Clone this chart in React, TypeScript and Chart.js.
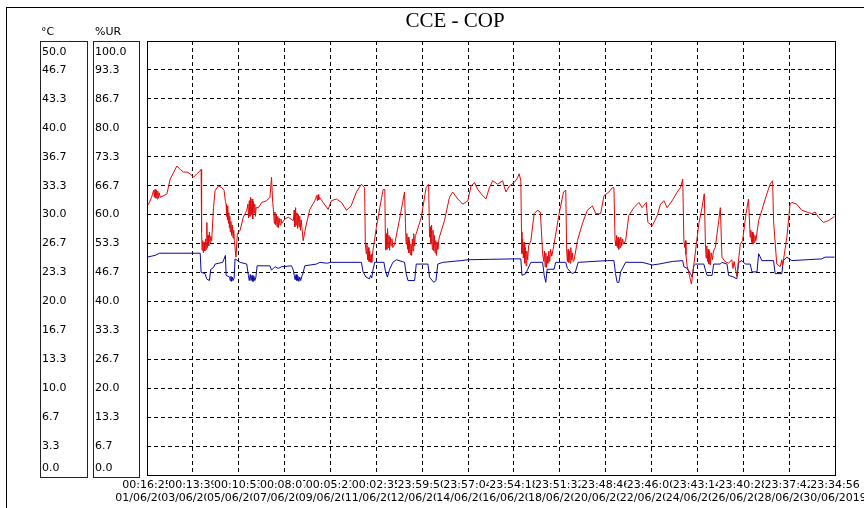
import { useEffect, useRef } from "react";
import { Chart, registerables } from "chart.js";

Chart.register(...registerables);

const chartTitle = "CCE - COP";
const leftAxisTitle = "°C";
const rightAxisTitle = "%UR";

const tempTickLabels = ["0.0", "3.3", "6.7", "10.0", "13.3", "16.7", "20.0", "23.3", "26.7", "30.0", "33.3", "36.7", "40.0", "43.3", "46.7", "50.0"];
const humTickLabels = ["0.0", "6.7", "13.3", "20.0", "26.7", "33.3", "40.0", "46.7", "53.3", "60.0", "66.7", "73.3", "80.0", "86.7", "93.3", "100.0"];

const xTimeLabels = ["00:16:25", "00:13:39", "00:10:53", "00:08:07", "00:05:21", "00:02:35", "23:59:50", "23:57:04", "23:54:18", "23:51:32", "23:48:46", "23:46:00", "23:43:14", "23:40:28", "23:37:42", "23:34:56"];
const xDateLabels = ["01/06/2019", "03/06/2019", "05/06/2019", "07/06/2019", "09/06/2019", "11/06/2019", "12/06/2019", "14/06/2019", "16/06/2019", "18/06/2019", "20/06/2019", "22/06/2019", "24/06/2019", "26/06/2019", "28/06/2019", "30/06/2019"];

// [days since start, °C]
const temperature: [number, number][] = [
  [0.0, 31.0], [0.07, 31.2], [0.2, 32.0], [0.29, 32.8],
  [0.32, 32.0], [0.35, 32.9], [0.38, 31.9], [0.41, 32.8], [0.44, 31.8], [0.47, 32.7], [0.5, 31.9], [0.53, 32.5],
  [0.58, 32.0], [0.75, 32.2], [0.87, 32.4], [1.01, 34.1], [1.15, 34.8], [1.3, 35.6], [1.45, 35.2], [1.59, 34.9],
  [1.75, 34.9], [1.88, 34.7], [2.03, 34.3], [2.17, 34.7], [2.3, 35.0], [2.36, 35.2], [2.38, 28.0], [2.4, 25.9],
  [2.43, 27.0], [2.46, 25.6], [2.49, 26.8], [2.52, 25.8], [2.55, 27.2], [2.58, 26.0], [2.61, 29.1], [2.63, 26.2],
  [2.66, 27.6], [2.69, 26.4], [2.72, 28.0], [2.75, 26.8], [2.78, 27.5], [2.82, 27.0],
  [2.9, 30.8], [2.97, 32.8], [3.12, 33.3], [3.26, 33.1], [3.36, 32.8], [3.42, 31.5],
  [3.45, 31.2], [3.47, 29.8], [3.49, 31.0], [3.51, 29.4], [3.53, 30.6], [3.55, 29.0], [3.57, 30.2], [3.59, 28.5],
  [3.61, 29.8], [3.63, 28.0], [3.66, 29.2], [3.69, 27.6], [3.72, 28.8], [3.75, 27.3], [3.78, 28.2], [3.81, 27.0],
  [3.88, 25.1], [3.94, 27.8], [4.06, 28.2], [4.2, 29.7], [4.35, 30.5],
  [4.4, 31.2], [4.43, 29.6], [4.46, 31.6], [4.49, 29.8], [4.52, 32.0], [4.55, 30.0], [4.58, 31.8], [4.61, 29.5],
  [4.64, 31.5], [4.67, 30.2], [4.7, 31.2], [4.73, 29.8], [4.76, 30.8],
  [4.86, 30.8], [5.0, 31.4], [5.22, 31.6], [5.36, 32.0], [5.43, 34.3], [5.48, 31.4],
  [5.52, 30.4], [5.55, 29.0], [5.58, 30.3], [5.61, 28.8], [5.64, 30.0], [5.67, 28.6], [5.7, 29.8], [5.73, 28.5],
  [5.76, 29.6], [5.8, 28.8], [5.84, 29.5], [5.88, 29.0],
  [6.01, 29.5], [6.16, 29.7], [6.38, 29.3],
  [6.42, 30.5], [6.45, 28.6], [6.48, 30.8], [6.51, 28.8], [6.54, 30.2], [6.57, 28.4], [6.6, 30.0], [6.63, 28.6],
  [6.66, 29.8], [6.69, 28.2], [6.72, 29.4], [6.76, 28.4], [6.81, 27.0],
  [6.93, 28.7], [7.1, 30.6], [7.32, 31.6], [7.4, 32.2], [7.43, 31.6], [7.46, 32.3], [7.49, 31.7], [7.52, 32.0],
  [7.68, 31.4], [7.9, 30.6], [8.04, 31.6], [8.26, 31.8], [8.48, 31.4], [8.7, 30.5], [8.9, 31.0], [9.13, 32.6],
  [9.35, 33.5], [9.49, 33.1], [9.52, 26.6],
  [9.56, 25.5], [9.59, 26.6], [9.62, 24.8], [9.65, 26.2], [9.68, 24.6], [9.71, 25.8], [9.74, 24.5], [9.77, 25.4],
  [9.8, 24.5], [9.84, 25.6],
  [10.0, 28.5], [10.15, 30.8], [10.3, 32.9], [10.37, 32.9], [10.4, 25.9],
  [10.43, 27.8], [10.46, 26.0], [10.49, 28.4], [10.52, 26.2], [10.55, 27.6], [10.58, 25.9], [10.61, 27.4],
  [10.64, 26.4], [10.68, 27.2], [10.72, 26.2],
  [10.8, 26.6], [11.0, 29.3], [11.23, 32.6], [11.27, 29.0], [11.3, 26.6],
  [11.33, 27.8], [11.36, 26.0], [11.39, 27.4], [11.42, 25.6], [11.45, 27.0], [11.48, 25.4], [11.51, 26.6],
  [11.54, 25.3], [11.57, 27.2], [11.6, 25.8], [11.63, 27.8], [11.67, 26.4], [11.7, 27.6],
  [11.74, 27.8], [11.96, 29.7], [12.17, 33.1], [12.28, 33.5], [12.32, 27.4],
  [12.35, 28.6], [12.38, 26.6], [12.41, 28.8], [12.44, 26.0], [12.47, 28.2], [12.5, 25.8], [12.53, 27.6],
  [12.56, 25.6], [12.59, 27.0], [12.62, 25.3], [12.65, 26.8], [12.68, 26.0], [12.72, 27.0],
  [12.75, 27.4], [12.97, 29.3], [13.19, 32.0], [13.33, 32.6], [13.55, 31.8], [13.77, 31.2], [13.99, 31.6],
  [14.13, 33.3], [14.28, 33.7], [14.42, 32.9], [14.57, 32.4], [14.78, 31.8], [14.93, 33.1], [15.07, 33.9],
  [15.29, 33.5], [15.51, 33.9], [15.58, 33.2], [15.65, 32.6], [15.8, 33.3], [16.01, 33.7], [16.15, 34.2],
  [16.23, 34.7], [16.3, 33.9], [16.33, 28.0], [16.35, 25.5],
  [16.38, 27.2], [16.41, 25.0], [16.44, 26.8], [16.47, 24.4], [16.5, 26.2], [16.53, 24.1], [16.56, 25.8],
  [16.6, 24.8], [16.64, 26.4],
  [16.74, 27.0], [16.88, 30.1], [17.03, 30.5], [17.15, 30.3], [17.2, 28.0], [17.25, 25.5],
  [17.3, 24.6], [17.33, 25.8], [17.36, 24.0], [17.39, 25.6], [17.42, 23.9], [17.45, 25.2], [17.48, 24.4],
  [17.52, 25.8], [17.56, 24.6], [17.6, 26.0], [17.65, 25.2],
  [17.75, 26.6], [17.97, 30.1], [18.16, 32.6], [18.26, 32.8], [18.3, 25.9],
  [18.33, 24.6], [18.36, 26.0], [18.39, 24.5], [18.42, 25.8], [18.45, 24.4], [18.48, 26.2], [18.51, 24.8],
  [18.54, 25.6], [18.58, 24.6],
  [18.62, 24.7], [18.77, 27.0], [18.99, 29.0], [19.2, 30.5], [19.42, 31.0], [19.57, 30.1], [19.78, 30.1],
  [19.93, 32.2], [20.14, 32.6], [20.29, 33.1], [20.36, 33.1], [20.41, 27.0],
  [20.45, 26.4], [20.48, 27.6], [20.51, 26.2], [20.54, 27.4], [20.57, 26.0], [20.6, 27.2], [20.63, 26.2],
  [20.66, 27.4], [20.7, 26.4], [20.74, 27.2], [20.78, 26.6],
  [20.87, 27.0], [21.01, 29.9], [21.23, 30.8], [21.45, 31.4], [21.59, 30.8], [21.77, 31.4], [21.84, 29.1],
  [22.03, 28.7], [22.25, 29.9], [22.39, 31.2], [22.54, 31.6], [22.68, 30.8], [22.9, 31.6], [23.12, 32.6],
  [23.26, 33.1], [23.36, 34.1], [23.41, 27.0], [23.45, 26.2], [23.48, 27.0], [23.5, 25.4], [23.55, 24.1],
  [23.65, 23.0], [23.74, 22.0], [23.84, 24.1], [24.06, 28.9], [24.2, 30.8], [24.3, 32.4], [24.35, 26.6],
  [24.38, 25.0], [24.41, 26.4], [24.44, 24.6], [24.47, 26.0], [24.5, 24.3], [24.53, 25.8], [24.56, 24.2],
  [24.6, 25.6], [24.65, 24.8], [24.7, 25.8],
  [24.78, 26.2], [24.93, 29.3], [25.0, 30.8], [25.07, 25.1], [25.2, 24.6], [25.36, 24.4], [25.5, 24.8],
  [25.55, 23.8], [25.6, 24.6], [25.72, 22.9], [25.87, 26.6], [25.97, 27.0], [26.12, 30.1], [26.23, 31.8],
  [26.3, 27.4],
  [26.33, 28.2], [26.36, 26.8], [26.39, 28.0], [26.42, 26.6], [26.45, 27.8], [26.48, 26.8], [26.51, 27.6],
  [26.55, 27.0],
  [26.67, 29.3], [26.81, 30.5], [27.03, 32.4], [27.17, 33.5], [27.28, 33.9], [27.32, 29.3], [27.46, 24.3],
  [27.61, 24.0], [27.68, 24.8], [27.7, 24.2], [27.75, 24.7], [27.9, 27.4], [28.04, 31.2], [28.12, 31.4],
  [28.33, 31.2], [28.55, 30.5], [28.77, 30.3], [28.99, 30.1], [29.13, 30.3], [29.28, 29.7], [29.49, 29.1],
  [29.71, 29.3], [29.93, 29.7], [29.98, 29.8],
];

// [days since start, %UR]
const humidity: [number, number][] = [
  [0.0, 50.2], [0.35, 50.6], [0.55, 51.1], [2.32, 51.1], [2.36, 46.7], [2.53, 46.4], [2.6, 45.2], [2.72, 44.8],
  [2.78, 47.4], [2.9, 47.8], [2.97, 48.6], [3.3, 49.0], [3.42, 50.6], [3.45, 46.0], [3.6, 45.6],
  [3.63, 44.8], [3.66, 45.8], [3.69, 44.6], [3.72, 45.6], [3.75, 44.8], [3.8, 45.4],
  [3.84, 49.8], [4.06, 49.0], [4.35, 48.6], [4.42, 46.0],
  [4.46, 44.8], [4.5, 46.2], [4.54, 44.8], [4.58, 46.0], [4.62, 44.6], [4.66, 45.8], [4.7, 44.8], [4.75, 45.6],
  [4.8, 48.2], [5.36, 48.2], [5.43, 47.2], [5.58, 48.0], [5.72, 47.6], [5.87, 48.0], [6.3, 48.2], [6.38, 47.2],
  [6.42, 46.0], [6.46, 45.0], [6.5, 46.2], [6.54, 44.8], [6.58, 45.8], [6.62, 44.6], [6.66, 45.6], [6.7, 44.8],
  [6.75, 45.8], [6.8, 46.4],
  [6.88, 48.2], [7.39, 48.6], [7.54, 49.0], [7.83, 48.8], [8.04, 49.0], [9.35, 49.0], [9.42, 46.8], [9.55, 45.6],
  [9.7, 45.2], [9.75, 46.0], [9.8, 45.4], [9.86, 47.4], [9.93, 49.0], [10.33, 49.0], [10.39, 47.2], [10.48, 45.6],
  [10.58, 47.4], [10.72, 49.0], [10.87, 49.6], [11.23, 49.0], [11.3, 46.4], [11.38, 44.8], [11.67, 44.8],
  [11.74, 48.6], [12.25, 48.6], [12.32, 45.6], [12.5, 44.4], [12.6, 44.8], [12.68, 48.6], [12.9, 49.0],
  [13.7, 49.4], [14.0, 49.6], [16.01, 49.8], [16.3, 49.8], [16.35, 46.0], [16.52, 46.4], [16.6, 47.4],
  [16.74, 49.0], [17.25, 49.0], [17.32, 46.0], [17.39, 44.4], [17.45, 47.4], [17.75, 47.4], [17.82, 49.0],
  [18.26, 49.0], [18.33, 47.6], [18.54, 46.4], [18.68, 46.8], [18.8, 49.0], [20.07, 49.4], [20.36, 49.4],
  [20.43, 46.4], [20.5, 44.4], [20.58, 44.4], [20.65, 46.8], [20.87, 49.0], [21.59, 49.0], [22.03, 48.4],
  [22.32, 48.6], [22.9, 49.2], [23.36, 49.4], [23.41, 48.0], [23.55, 47.6], [23.7, 46.4], [23.77, 45.6],
  [23.84, 48.2], [23.92, 48.6], [24.28, 48.6], [24.35, 47.2], [24.42, 46.0], [24.64, 46.0], [24.71, 48.6],
  [25.0, 48.6], [25.07, 49.0], [25.29, 48.6], [25.36, 46.0], [25.58, 45.6], [25.72, 45.2], [25.8, 49.0],
  [25.94, 49.4], [26.09, 48.6], [26.3, 48.6], [26.38, 46.8], [26.6, 46.8], [26.67, 51.0], [26.81, 49.4],
  [27.32, 49.4], [27.39, 46.4], [27.68, 46.4], [27.75, 49.4], [27.9, 50.2], [28.12, 49.4], [29.42, 49.8],
  [29.57, 50.2], [29.98, 50.2],
];

const FONT = "'DejaVu Sans', sans-serif";

const decorPlugin = {
  id: "decor",
  beforeDraw(chart: any) {
    const ctx = chart.ctx;
    ctx.save();
    ctx.fillStyle = "#ffffff";
    ctx.fillRect(0, 0, chart.width, chart.height);
    ctx.restore();
  },
  afterDraw(chart: any) {
    const ctx = chart.ctx;
    const area = chart.chartArea;
    const ys = chart.scales.y;
    const xs = chart.scales.x;
    ctx.save();
    // outer frame
    ctx.strokeStyle = "#000";
    ctx.lineWidth = 1;
    ctx.strokeRect(6.5, 7.5, 1000, 1000);
    // title
    ctx.fillStyle = "#000";
    ctx.font = "21px 'Liberation Serif', serif";
    ctx.textAlign = "center";
    ctx.textBaseline = "middle";
    ctx.fillText(chartTitle, 455, 21);
    // plot border
    ctx.strokeRect(Math.round(area.left) + 0.5, Math.round(area.top) + 0.5, Math.round(area.right - area.left), Math.round(area.bottom - area.top));
    // axis boxes
    ctx.strokeStyle = "#222";
    ctx.strokeRect(40.5, 41.5, 47, 436);
    ctx.strokeRect(93.5, 41.5, 46, 436);
    ctx.font = "11px " + FONT;
    ctx.textAlign = "left";
    ctx.fillStyle = "#000";
    ctx.fillText(leftAxisTitle, 41, 32);
    ctx.fillText(rightAxisTitle, 95, 32);
    tempTickLabels.forEach((lab, i) => {
      const py = ys.getPixelForValue((i * 50) / 15);
      const cy = Math.min(Math.max(py, 52), 468);
      ctx.fillText(lab, 42, cy);
      ctx.fillText(humTickLabels[i], 95, cy);
    });
    // x labels with opaque backdrops (later ones cover earlier ones)
    ctx.textAlign = "center";
    const drawRow = (labels: string[], cy: number) => {
      labels.forEach((lab, i) => {
        const px = xs.getPixelForValue(i * 2);
        const w = ctx.measureText(lab).width;
        ctx.fillStyle = "#fff";
        ctx.fillRect(px - w / 2 - 0.5, cy - 6, w + 1, 12);
        ctx.fillStyle = "#000";
        ctx.fillText(lab, px, cy);
      });
    };
    drawRow(xTimeLabels, 485);
    drawRow(xDateLabels, 498);
    ctx.restore();
  },
};

export default function App() {
  const ref = useRef<HTMLCanvasElement | null>(null);
  useEffect(() => {
    if (!ref.current) return;
    const chart = new Chart(ref.current, {
      type: "line",
      data: {
        datasets: [
          {
            label: leftAxisTitle,
            data: temperature.map(([x, y]) => ({ x, y })),
            yAxisID: "y",
            borderColor: "rgb(225,10,10)",
            borderWidth: 1,
            pointRadius: 0,
            tension: 0,
            fill: false,
          },
          {
            label: rightAxisTitle,
            data: humidity.map(([x, y]) => ({ x, y })),
            yAxisID: "y2",
            borderColor: "rgb(10,10,160)",
            borderWidth: 1,
            pointRadius: 0,
            tension: 0,
            fill: false,
          },
        ],
      },
      options: {
        responsive: false,
        animation: false,
        events: [],
        layout: { padding: { left: 147, top: 41, right: 29, bottom: 33 } },
        plugins: { legend: { display: false }, tooltip: { enabled: false }, title: { display: false } },
        scales: {
          x: {
            type: "linear",
            min: 0,
            max: 30,
            afterBuildTicks: (s: any) => {
              s.ticks = xTimeLabels.map((_, i) => ({ value: i * 2 }));
            },
            ticks: { display: false },
            grid: { color: "#000", lineWidth: 1, drawTicks: false },
            border: { display: false, dash: [4, 3] },
          },
          y: {
            type: "linear",
            min: 0,
            max: 50,
            afterBuildTicks: (s: any) => {
              s.ticks = tempTickLabels.map((_, i) => ({ value: (i * 50) / 15 }));
            },
            ticks: { display: false },
            grid: { color: "#000", lineWidth: 1, drawTicks: false },
            border: { display: false, dash: [4, 3] },
          },
          y2: { type: "linear", display: false, min: 0, max: 100 },
        },
      },
      plugins: [decorPlugin],
    } as any);
    return () => chart.destroy();
  }, []);
  return (
    <div style={{ position: "absolute", left: 0, top: 0, width: 864, height: 508, background: "#fff" }}>
      <canvas ref={ref} width={864} height={508} style={{ display: "block" }} />
    </div>
  );
}
